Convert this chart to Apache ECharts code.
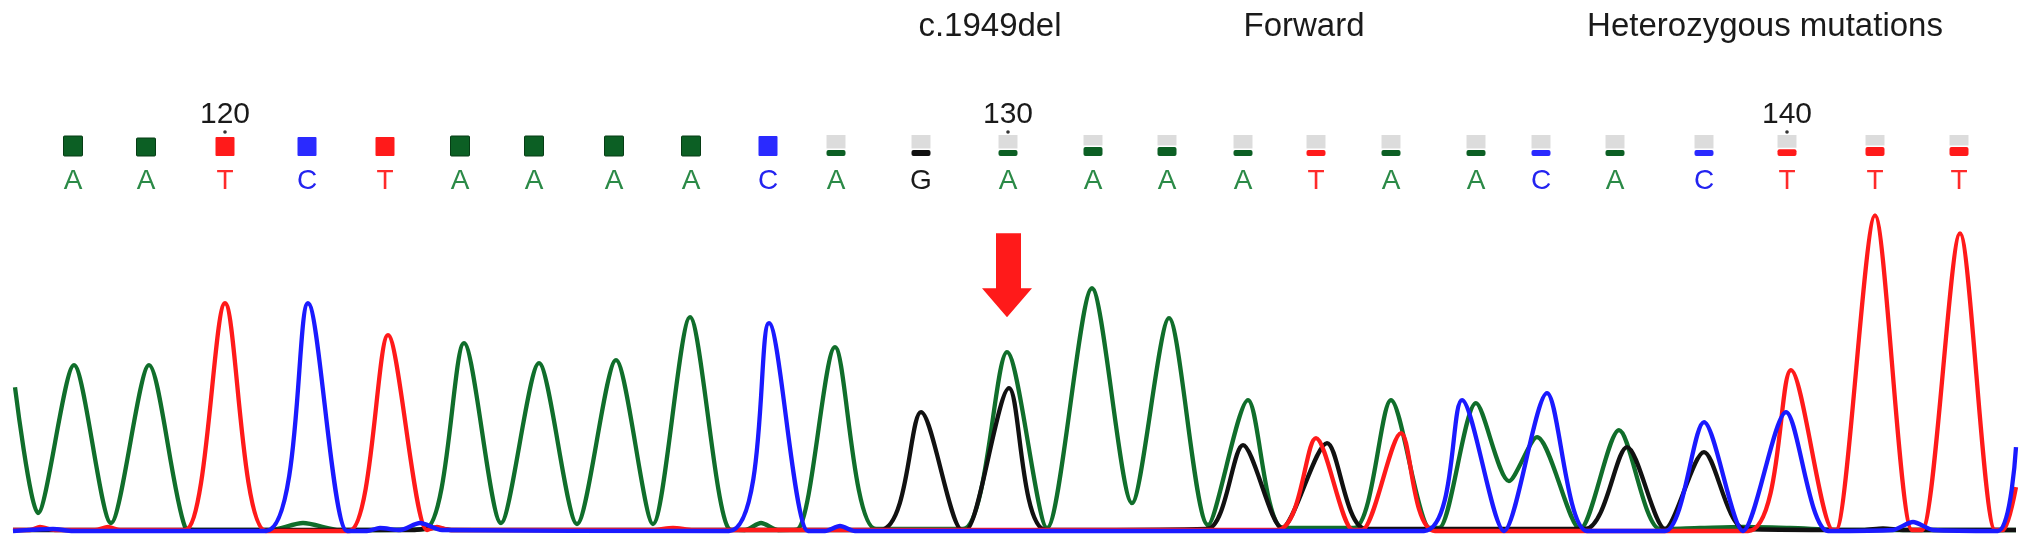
<!DOCTYPE html>
<html><head><meta charset="utf-8">
<script src="https://cdn.jsdelivr.net/npm/echarts@6/dist/echarts.min.js"></script>
<style>html,body{margin:0;padding:0;background:#fff}#c{width:2032px;height:549px}</style>
</head><body><div id="c"></div>
<script>
// ---- data ----
const titles = ['c.1949del', 'Forward', 'Heterozygous mutations'];
const baseCalls = ['A','A','T','C','T','A','A','A','A','C','A','G','A','A','A','A','T','A','A','C','A','C','T','T','T'];
const basePositions = [118,119,120,121,122,123,124,125,126,127,128,129,130,131,132,133,134,135,136,137,138,139,140,141,142];
const baseScans = [60,133,212,294,372,447,521,601,678,755,823,908,995,1080,1154,1230,1303,1378,1463,1528,1602,1691,1774,1862,1946];
const qualityValues = [40,36,38,38,38,40,40,40,40,40,8,8,8,12,12,8,8,8,8,8,8,8,9,12,12];
const positionTicks = [120,130,140];
const mutationBase = 130;

// trace points: [scan, signal]
const traceA = [[2,432],[25,54],[61,498],[98,24],[136,498],[172,12],[187,3],[257,3],[290,24],[327,3],[412,6],[451,564],[488,24],[526,504],[564,21],[603,513],[640,21],[677,642],[716,6],[732,3],[748,24],[765,3],[785,6],[822,552],[863,6],[950,6],[994,537],[1034,9],[1079,729],[1119,84],[1156,639],[1195,18],[1235,393],[1270,9],[1341,9],[1378,393],[1417,9],[1426,9],[1463,384],[1496,150],[1524,282],[1567,6],[1606,303],[1647,6],[1687,9],[1730,12],[1777,9],[1837,3],[2003,3]];
const traceG = [[0,3],[400,3],[420,9],[440,3],[867,3],[908,357],[949,3],[953,3],[996,429],[1033,3],[1194,6],[1230,258],[1269,9],[1314,264],[1353,6],[1572,6],[1614,252],[1652,6],[1691,237],[1732,6],[1850,3],[1870,8],[1890,3],[2003,3]];
const traceT = [[0,3],[17,3],[27,12],[42,3],[82,3],[95,12],[107,3],[172,3],[212,684],[253,0],[336,0],[375,588],[414,3],[424,12],[437,3],[640,3],[660,9],[680,3],[1264,3],[1303,279],[1340,3],[1349,3],[1388,294],[1422,0],[1735,0],[1778,483],[1820,3],[1823,3],[1862,948],[1899,3],[1909,3],[1947,894],[1982,3],[1990,3],[2003,132]];
const traceC = [[0,0],[40,6],[60,0],[253,0],[295,684],[334,0],[354,0],[367,9],[387,3],[407,24],[429,3],[716,0],[756,624],[795,0],[812,0],[827,15],[842,0],[1411,0],[1449,393],[1491,0],[1534,414],[1574,0],[1652,0],[1691,327],[1730,0],[1773,357],[1815,0],[1880,3],[1900,27],[1920,3],[1985,0],[2003,252]];

// ---- style ----
const COL = {A:'#106e2b', C:'#1a1aff', G:'#111111', T:'#ff1a1a'};
const LETTER = {A:'#2b8a47', C:'#2323f0', G:'#1a1a1a', T:'#ff2a2a'};
const BAR = {A:'#0c5f24', C:'#2a2aff', G:'#111111', T:'#ff1a1a'};
const FONT = '"Liberation Sans", Arial, Helvetica, sans-serif';

const chart = echarts.init(document.getElementById('c'), null, {renderer:'canvas'});

function traceSeries(name, data, color, z) {
  return {
    type:'line', name, data, xAxisIndex:0, yAxisIndex:0,
    showSymbol:false, symbol:'none', smooth:0.27, clip:false, z,
    lineStyle:{color, width:4.3, join:'round'}, silent:true, animation:false
  };
}

const option = {
  backgroundColor:'#ffffff',
  animation:false,
  grid:[
    {left:13, right:16, top:198, bottom:18},
    {left:13, right:16, top:100, height:100}
  ],
  xAxis:[
    {type:'value', gridIndex:0, min:0, max:2003, show:false},
    {type:'value', gridIndex:1, min:0, max:2003, show:false}
  ],
  yAxis:[
    {type:'value', gridIndex:0, min:0, max:1000, show:false},
    {type:'value', gridIndex:1, min:0, max:100, show:false}
  ],
  graphic: titles.map((t, i) => ({
    type:'text', x:[990,1304,1765][i], y:27,
    style:{text:t, font:'33px ' + FONT, fill:'#1a1a1a', textAlign:'center', textVerticalAlign:'middle'}
  })),
  series:[
    traceSeries('A', traceA, COL.A, 2),
    traceSeries('G', traceG, COL.G, 3),
    traceSeries('T', traceT, COL.T, 4),
    traceSeries('C', traceC, COL.C, 5),
    {
      type:'custom', xAxisIndex:1, yAxisIndex:1, clip:false, silent:true,
      data: baseScans.map((s, i) => [s, i]),
      renderItem: function (params, api) {
        const i = api.value(1);
        const x = api.coord([api.value(0), 0])[0];
        const top = params.coordSys.y;
        const b = baseCalls[i];
        const q = qualityValues[i];
        const children = [];
        const w = 19, bottom = top + 56;
        if (q >= 20) {
          const h = Math.min(20, q / 2);
          children.push({type:'rect', shape:{x:x - w/2, y:bottom - h, width:w, height:h, r:1},
            style:{fill:BAR[b], stroke: b === 'A' ? '#063d15' : null, lineWidth:1}});
        } else {
          const h = q * 0.75;
          children.push({type:'rect', shape:{x:x - w/2, y:top + 35, width:w, height:21 - h - 1.5},
            style:{fill:'#dcdcdc'}});
          children.push({type:'rect', shape:{x:x - w/2, y:bottom - h, width:w, height:h, r:2},
            style:{fill:BAR[b]}});
        }
        children.push({type:'text', style:{text:b, x:x, y:top + 81, font:'28px ' + FONT,
          fill:LETTER[b], textAlign:'center', textVerticalAlign:'middle'}});
        if (positionTicks.indexOf(basePositions[i]) >= 0) {
          children.push({type:'text', style:{text:String(basePositions[i]), x:x, y:top + 15,
            font:'30px ' + FONT, fill:'#1a1a1a', textAlign:'center', textVerticalAlign:'middle'}});
          children.push({type:'circle', shape:{cx:x, cy:top + 32, r:1.8}, style:{fill:'#333'}});
        }
        return {type:'group', children};
      }
    },
    {
      type:'scatter', xAxisIndex:0, yAxisIndex:0, clip:false, silent:true, z:10,
      data:[[baseScans[basePositions.indexOf(mutationBase)] - 1, 768]],
      symbol:'path://M14,0 L39,0 L39,55 L50,55 L25,84 L0,55 L14,55 Z',
      symbolSize:[50,84], itemStyle:{color:'#ff1a1a', opacity:1}
    }
  ]
};
chart.setOption(option);
</script></body></html>
